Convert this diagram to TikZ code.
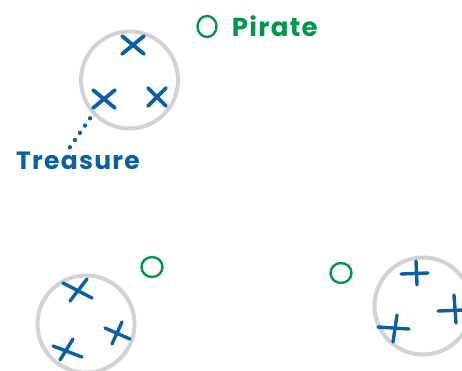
\documentclass[tikz,border=0pt]{standalone}
\usepackage{fontspec}
\setmainfont{Poppins}[LetterSpace=5]
\usetikzlibrary{positioning}
\usetikzlibrary{shapes.geometric}
\definecolor{mapblue}{RGB}{10, 96, 168}
\definecolor{piragreen}{RGB}{0, 150, 78}
\definecolor{ringgray}{RGB}{210, 210, 213}

\begin{document}
\begin{tikzpicture}[
        x=1pt, y=-1pt,
        node distance=14pt,
        ring/.style={circle, draw=ringgray, line width=4pt,
            minimum size=97pt, inner sep=0pt},
        xline/.style={line width=3.8pt, line cap=round, color=mapblue},
        hand/.style={line width=3.4pt, line cap=round, color=mapblue},
        pirate/.style={ellipse, draw=piragreen, line width=2.4pt,
            minimum width=19pt, minimum height=21pt, inner sep=0pt},
        tag/.style={font=\fontsize{25}{27}\selectfont\bfseries, inner sep=0pt},
        trail/.style={line width=4.4pt, line cap=round, color=mapblue,
            dash pattern=on 0pt off 8.8pt}
        ]
        \useasboundingbox (0,0) rectangle (462,370);

        % rings
        \node[ring] (isle) at (129.5,80) {};
        \node[ring] (cove) at (86,324) {};
        \node[ring] (reef) at (423,306) {};

        % treasure spots in the first ring
        \coordinate (t1) at (133,45);
        \coordinate (t2) at (104,99);
        \coordinate (t3) at (157,97);
        \draw[xline] (t1) +(-11,-9) -- +(11,9) +(11,-9) -- +(-11,9);
        \draw[xline] (t2) +(-11,-9) -- +(11,9) +(11,-9) -- +(-11,9);
        \draw[xline] (t3) +(-9,-9) -- +(9,9) +(9,-9) -- +(-9,9);

        % hand drawn crosses, second ring
        \coordinate (c1) at (78,290);
        \coordinate (c2) at (117,333);
        \coordinate (c3) at (67,350);
        \draw[hand] (c1) +(-15,-7) -- +(14,8) +(9,-11) -- +(-8,11);
        \draw[hand] (c2) +(-12,-5) -- +(13,6) +(5,-11) -- +(-5,11);
        \draw[hand] (c3) +(-14,-4) -- +(15,7) +(6,-11) -- +(-7,10);

        % plus signs, third ring
        \coordinate (r1) at (416,273);
        \coordinate (r2) at (455,310);
        \coordinate (r3) at (395,328);
        \draw[hand] (r1) +(-15,1) -- +(12,0) +(0,-12) -- +(1,12);
        \draw[hand] (r2) +(-17,1) -- +(8,0) +(-1,-15) -- +(1,13);
        \draw[hand] (r3) +(-17,-1) -- +(14,1) +(2,-13) -- +(-2,14);

        % pirates
        \node[pirate] (p0) at (207,26.5) {};
        \node[pirate, minimum width=21pt, minimum height=20pt] (p1) at (152,267) {};
        \node[pirate, minimum width=21pt, minimum height=20pt] (p2) at (341,273) {};
        \node[tag, text=piragreen, right=of p0, font=\fontsize{26}{28}\selectfont\bfseries] (pirlabel) {Pirate};

        % treasure label
        \node[tag, text=mapblue, anchor=base west] (treasure) at (16,169) {Treasure};
        \draw[trail] ([xshift=-8pt,yshift=4pt]treasure.north) -- ([shift={(-11,15)}]t2);
    \end{tikzpicture}
\end{document}
